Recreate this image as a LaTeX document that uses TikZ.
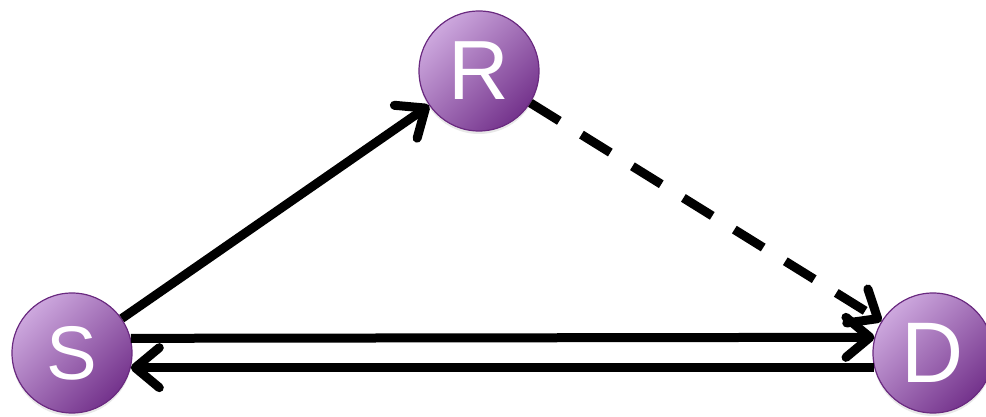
\documentclass[tikz,border=0pt]{standalone}
\usepackage{fontspec}
\setmainfont{Liberation Sans}
\usetikzlibrary{arrows.meta,shadows}
\definecolor{nodelight}{HTML}{CDA8DE}
\definecolor{nodemid}{HTML}{9A5BB0}
\definecolor{nodedark}{HTML}{74338C}
\definecolor{nodeedge}{HTML}{6A2A80}
\tikzset{
  station/.style={circle, minimum size=120pt, inner sep=0pt,
    draw=nodeedge, line width=1.2pt,
    top color=nodelight, middle color=nodemid, bottom color=nodedark,
    shading angle=45,
    drop shadow={opacity=0.18, shadow xshift=0pt, shadow yshift=-3pt},
    text=white},
  link/.style={line width=9pt, line cap=butt,
    -{Straight Barb[length=24pt,width=40pt,round]}},
  relay/.style={link, dash pattern=on 34pt off 26pt}
}
\begin{document}
\begin{tikzpicture}[x=1pt,y=1pt]
  \useasboundingbox (0,0) rectangle (986,417);
  % the three stations
  \node[station, font=\fontsize{76}{76}\selectfont] (S) at (72,64) {S};
  \node[station, font=\fontsize{84}{84}\selectfont] (R) at (479,346) {R};
  \node[station, font=\fontsize{86}{86}\selectfont] (D) at (933,64) {D};
  % links between them
  \draw[link] (S) -- (R);
  \draw[relay] (R) -- (D);
  \draw[link] (S.14.48) -- (D.165.52);
  \draw[link] (D.194.48) -- (S.-14.48);
\end{tikzpicture}
\end{document}
